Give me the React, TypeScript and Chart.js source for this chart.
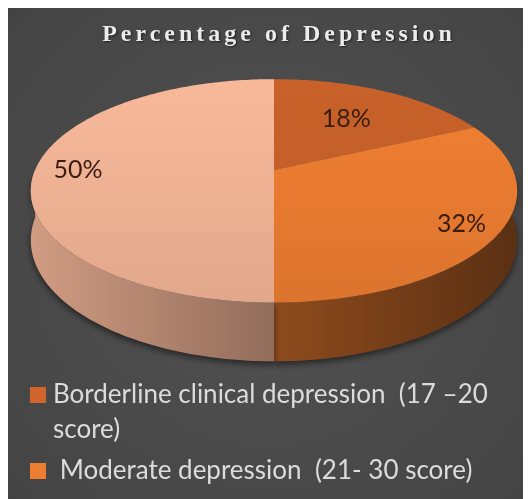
import React, { useEffect, useRef } from 'react';
import { Chart, registerables } from 'chart.js';

Chart.register(...registerables);

// Depression categories and their share of respondents (%)
const categories = [
  'Borderline clinical depression  (17 –20 score)',
  ' Moderate depression  (21- 30 score)',
  'Severe depression  (31- 40 score)',
];
const shares = [18, 32, 50];
const sliceColors = ['#d0652c', '#ed7d31', '#f3b597'];
const chartTitle = 'Percentage of Depression';

type RGB = [number, number, number];

function hexToRgb(hex: string): RGB {
  const h = hex.replace('#', '');
  return [parseInt(h.slice(0, 2), 16), parseInt(h.slice(2, 4), 16), parseInt(h.slice(4, 6), 16)];
}

function shade(hex: string, f: number): string {
  const [r, g, b] = hexToRgb(hex);
  const c = (v: number) => Math.max(0, Math.min(255, Math.round(v * f)));
  return `rgb(${c(r)}, ${c(g)}, ${c(b)})`;
}

// Draws the pie as a tilted disc with perspective and a visible rim,
// using the angles computed by the doughnut controller.
const pie3d = {
  id: 'pie3d',
  beforeDraw(chart: any, _args: any, opts: any) {
    const { ctx, width, height } = chart;
    const bg = ctx.createRadialGradient(width / 2, height * 0.5, 20, width / 2, height * 0.5, width * 0.75);
    bg.addColorStop(0, '#525252');
    bg.addColorStop(1, '#424242');
    ctx.save();
    ctx.fillStyle = bg;
    ctx.fillRect(0, 0, width, height);
    ctx.restore();
    // title styling (spaced serif with a soft shadow)
    ctx.save();
    ctx.letterSpacing = opts.titleSpacing;
    ctx.shadowColor = 'rgba(0,0,0,0.6)';
    ctx.shadowBlur = 2;
    ctx.shadowOffsetX = 1;
    ctx.shadowOffsetY = 1;
    ctx.translate(opts.titleShift, 0);
  },
  beforeDatasetsDraw(chart: any, _args: any, opts: any) {
    const ctx = chart.ctx;
    ctx.restore();
    const meta = chart.getDatasetMeta(0);
    const arcs = meta.data as any[];
    if (!arcs.length) return false;
    const values = chart.data.datasets[0].data as number[];
    const colors = chart.data.datasets[0].backgroundColor as string[];
    const cx = arcs[0].x;
    const cy = arcs[0].y;
    const R = arcs[0].outerRadius;
    const AR = R * opts.xScale;
    const BR = R * opts.yScale;
    const p = opts.perspective;
    const D = R * opts.depth;
    const proj = (theta: number, f: number, h: number): [number, number] => {
      const u = f * Math.cos(theta);
      const v = f * Math.sin(theta);
      const w = 1 - p * v;
      return [cx + (AR * u) / w, cy + (BR * v) / w + (h * D) / w];
    };
    const steps = (a0: number, a1: number) => Math.max(2, Math.ceil(((a1 - a0) * 180) / Math.PI));
    const left = cx - AR * 1.02;
    const right = cx + AR * 1.02;

    // rim (front half only)
    ctx.save();
    ctx.shadowColor = 'rgba(0,0,0,0.55)';
    ctx.shadowBlur = 7;
    ctx.shadowOffsetY = 3;
    arcs.forEach((arc, i) => {
      const a0 = Math.max(arc.startAngle, 0);
      const a1 = Math.min(arc.endAngle, Math.PI);
      if (a1 <= a0) return;
      const n = steps(a0, a1);
      ctx.beginPath();
      for (let k = 0; k <= n; k++) {
        const t = a0 + ((a1 - a0) * k) / n;
        const [x, y] = proj(t, 1, 0);
        if (k === 0) ctx.moveTo(x, y);
        else ctx.lineTo(x, y);
      }
      for (let k = n; k >= 0; k--) {
        const t = a0 + ((a1 - a0) * k) / n;
        const [x, y] = proj(t, 1, 1);
        ctx.lineTo(x, y);
      }
      ctx.closePath();
      const g = ctx.createLinearGradient(left, 0, right, 0);
      g.addColorStop(0, shade(colors[i], 0.86));
      g.addColorStop(0.5, shade(colors[i], 0.6));
      g.addColorStop(1, shade(colors[i], 0.38));
      ctx.fillStyle = g;
      ctx.fill();
    });
    ctx.restore();

    // top faces
    const topY = cy - BR / (1 + p);
    const botY = cy + BR / (1 - p);
    arcs.forEach((arc, i) => {
      const a0 = arc.startAngle;
      const a1 = arc.endAngle;
      const n = steps(a0, a1);
      ctx.beginPath();
      const [x0, y0] = proj(0, 0, 0);
      ctx.moveTo(x0, y0);
      for (let k = 0; k <= n; k++) {
        const t = a0 + ((a1 - a0) * k) / n;
        const [x, y] = proj(t, 1, 0);
        ctx.lineTo(x, y);
      }
      ctx.closePath();
      const g = ctx.createLinearGradient(0, topY, 0, botY);
      g.addColorStop(0, shade(colors[i], i === 0 ? 0.96 : 1.02));
      g.addColorStop(1, shade(colors[i], i === 0 ? 0.92 : 0.93));
      ctx.fillStyle = g;
      ctx.fill();
    });

    // percentage labels
    ctx.save();
    ctx.font = opts.labelFont;
    ctx.fillStyle = opts.labelColor;
    ctx.textAlign = 'center';
    ctx.textBaseline = 'middle';
    arcs.forEach((arc, i) => {
      const mid = (arc.startAngle + arc.endAngle) / 2;
      const [x, y] = proj(mid, opts.labelRadius[i], 0);
      ctx.fillText(`${values[i]}%`, x, y);
    });
    ctx.restore();
    return false;
  },
};

// Legend list under the pie with word wrapping
const legendList = {
  id: 'legendList',
  afterDraw(chart: any, _args: any, opts: any) {
    const ctx = chart.ctx;
    const labels = chart.data.labels as string[];
    const colors = chart.data.datasets[0].backgroundColor as string[];
    ctx.save();
    ctx.font = opts.font;
    ctx.textBaseline = 'alphabetic';
    ctx.textAlign = 'left';
    let y = opts.top;
    labels.forEach((label, i) => {
      const words = label.split(' ');
      const lines: string[] = [];
      let line = '';
      words.forEach((w, k) => {
        const test = k === 0 ? w : line + ' ' + w;
        if (k > 0 && line.trim() && ctx.measureText(test).width > opts.maxWidth) {
          lines.push(line);
          line = w;
        } else {
          line = test;
        }
      });
      lines.push(line);
      ctx.fillStyle = colors[i];
      ctx.fillRect(opts.markerX, y - opts.markerSize, opts.markerSize, opts.markerSize);
      ctx.fillStyle = opts.color;
      lines.forEach((ln, j) => ctx.fillText(ln, opts.textX, y + j * opts.lineHeight));
      y += lines.length * opts.lineHeight + opts.gap;
    });
    ctx.restore();
  },
};

export default function App() {
  const canvasRef = useRef<HTMLCanvasElement>(null);

  useEffect(() => {
    if (!canvasRef.current) return;
    const chart = new Chart(canvasRef.current, {
      type: 'pie',
      data: {
        labels: categories,
        datasets: [{ data: shares, backgroundColor: sliceColors, borderWidth: 0 }],
      },
      options: {
        animation: false,
        responsive: true,
        maintainAspectRatio: false,
        layout: { padding: { left: 9, right: 0, top: 0, bottom: 218 } },
        plugins: {
          legend: { display: false },
          tooltip: { enabled: false },
          title: {
            display: true,
            text: chartTitle,
            color: '#ececec',
            font: { family: '"Liberation Serif", serif', size: 24, weight: 'bold' },
            padding: { top: 12, bottom: 10 },
          },
          pie3d: {
            xScale: 2.15,
            yScale: 0.97,
            perspective: 0.1875,
            depth: 0.43,
            labelRadius: [0.62, 0.85, 0.82],
            labelFont: '25px Lato',
            labelColor: '#3a1c10',
            titleSpacing: '4px',
            titleShift: 5,
          },
          legendList: {
            font: '26px Lato',
            color: '#dcdcdc',
            top: 395,
            markerX: 22,
            markerSize: 16,
            textX: 45,
            lineHeight: 35,
            gap: 6,
            maxWidth: 450,
          },
        } as any,
      },
      plugins: [pie3d, legendList],
    });
    return () => chart.destroy();
  }, []);

  return (
    <div style={{ width: 523, height: 491, position: 'relative' }}>
      <canvas ref={canvasRef} />
    </div>
  );
}
